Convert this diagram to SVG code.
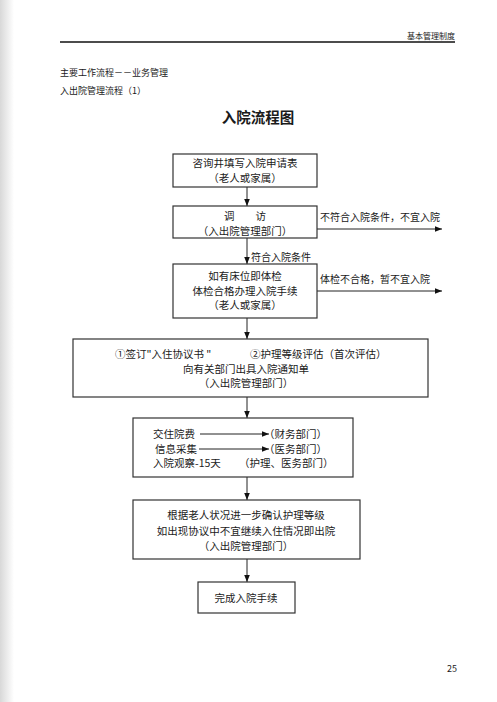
<svg xmlns="http://www.w3.org/2000/svg" width="497" height="702" viewBox="0 0 497 702">
<defs>
<linearGradient id="edge" x1="0" y1="0" x2="1" y2="0">
<stop offset="0" stop-color="#d8d8d8"/>
<stop offset="1" stop-color="#ffffff"/>
</linearGradient>
<marker id="ah" viewBox="0 0 10 10" refX="10" refY="5" markerWidth="7" markerHeight="7" markerUnits="userSpaceOnUse" orient="auto">
<path d="M0,1 L10,5 L0,9 z" fill="#111"/>
</marker>
<style>
.t{font-family:"Noto Sans CJK SC","Liberation Serif",sans-serif;fill:#1a1a1a;}
.b{font-size:10.5px;text-anchor:middle;}
.s{font-size:10px;}
.r{font-size:10.5px;}
.box{fill:#fff;stroke:#333;stroke-width:1.2;}
.ln{stroke:#222;stroke-width:1;fill:none;marker-end:url(#ah);}
</style>
</defs>
<rect x="0" y="0" width="497" height="702" fill="#fff"/>
<rect x="0" y="0" width="14" height="702" fill="url(#edge)"/>

<g id="header">
<line x1="60" y1="42" x2="455" y2="42" stroke="#111" stroke-width="1.5"/>
<text class="t" x="455" y="39" font-size="8" text-anchor="end">基本管理制度</text>
<text class="t" x="60" y="76" font-size="9">主要工作流程－－业务管理</text>
<text class="t" x="60" y="94" font-size="9">入出院管理流程（1）</text>
<text class="t" x="258" y="123" font-size="14.5" font-weight="bold" text-anchor="middle">入院流程图</text>
</g>

<g id="connectors">
<line class="ln" x1="247" y1="187" x2="247" y2="206"/>
<line class="ln" x1="317" y1="229" x2="442" y2="229"/>
<line class="ln" x1="247" y1="238" x2="247" y2="264"/>
<line class="ln" x1="317" y1="291" x2="442" y2="291"/>
<line class="ln" x1="247" y1="318" x2="247" y2="339"/>
<line class="ln" x1="247" y1="397" x2="247" y2="418"/>
<line class="ln" x1="247" y1="477" x2="247" y2="500"/>
<line class="ln" x1="247" y1="559" x2="247" y2="582"/>
<text class="t s" x="320" y="221">不符合入院条件，不宜入院</text>
<text class="t s" x="251" y="261">符合入院条件</text>
<text class="t s" x="320" y="283">体检不合格，暂不宜入院</text>
</g>

<g id="n1">
<rect class="box" x="173" y="154" width="144" height="33"/>
<text class="t b" x="245" y="167">咨询井填写入院申请表</text>
<text class="t b" x="245" y="182">（老人或家属）</text>
</g>

<g id="n2">
<rect class="box" x="173" y="206" width="144" height="32"/>
<text class="t b" x="245" y="220">调　　访</text>
<text class="t b" x="245" y="235">（入出院管理部门）</text>
</g>

<g id="n3">
<rect class="box" x="173" y="264" width="144" height="54"/>
<text class="t b" x="245" y="280">如有床位即体检</text>
<text class="t b" x="245" y="294.5">体检合格办理入院手续</text>
<text class="t b" x="245" y="309">（老人或家属）</text>
</g>

<g id="n4">
<rect class="box" x="73" y="339" width="355" height="58"/>
<text class="t r" x="115" y="358">①签订"入住协议书 "</text>
<text class="t r" x="250" y="358">②护理等级评估（首次评估）</text>
<text class="t b" x="246" y="372.5">向有关部门出具入院通知单</text>
<text class="t b" x="246" y="387">（入出院管理部门）</text>
</g>

<g id="n5">
<rect class="box" x="133" y="418" width="220" height="59"/>
<text class="t r" x="153" y="438">交住院费</text>
<text class="t r" x="155" y="452.5">信息采集</text>
<text class="t r" x="153" y="467">入院观察-15天</text>
<line class="ln" x1="200" y1="434" x2="269" y2="434"/>
<line class="ln" x1="199" y1="449" x2="269" y2="449"/>
<text class="t r" x="264" y="438">（财务部门）</text>
<text class="t r" x="264" y="452.5">（医务部门）</text>
<text class="t r" x="239" y="467">（护理、医务部门）</text>
</g>

<g id="n6">
<rect class="box" x="133" y="500" width="227" height="59"/>
<text class="t b" x="246" y="519">根据老人状况进一步确认护理等级</text>
<text class="t b" x="246" y="534.5">如出现协议中不宜继续入住情况即出院</text>
<text class="t b" x="246" y="549.5">（入出院管理部门）</text>
</g>

<g id="n7">
<rect class="box" x="198" y="582" width="97" height="31"/>
<text class="t b" x="246" y="601.5">完成入院手续</text>
</g>

<g id="footer">
<text class="t" x="452" y="672" font-size="9" text-anchor="middle">25</text>
</g>
</svg>
